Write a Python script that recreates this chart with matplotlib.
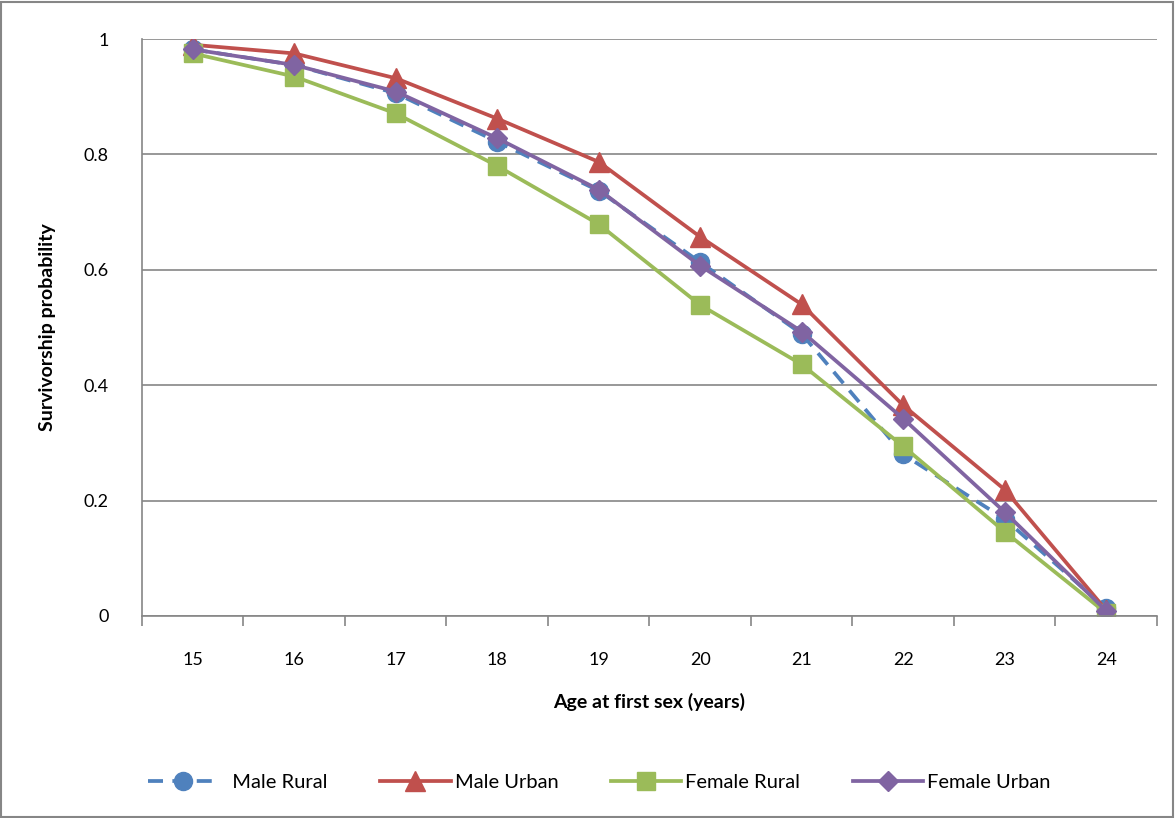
import matplotlib.pyplot as plt
from matplotlib.patches import Rectangle

# survivorship probabilities
ages = [15, 16, 17, 18, 19, 20, 21, 22, 23, 24]
male_rural = [0.982, 0.955, 0.906, 0.822, 0.737, 0.613, 0.489, 0.280, 0.168, 0.013]
male_urban = [0.990, 0.975, 0.932, 0.862, 0.787, 0.657, 0.540, 0.365, 0.219, 0.010]
female_rural = [0.975, 0.935, 0.871, 0.780, 0.679, 0.539, 0.436, 0.294, 0.146, 0.005]
female_urban = [0.982, 0.955, 0.909, 0.828, 0.739, 0.607, 0.493, 0.342, 0.180, 0.009]

plt.rcParams['font.family'] = ['Lato', 'DejaVu Sans']

fig = plt.figure(figsize=(11.75, 8.18), dpi=100)
ax = fig.add_axes([142 / 1175, 1 - 616 / 818, (1157 - 142) / 1175, (616 - 39) / 818])

# outer chart border
fig.patches.append(Rectangle((0.001, 0.001), 0.997, 0.997, transform=fig.transFigure,
                             fill=False, edgecolor='#868686', linewidth=1.5))

ax.plot(ages, male_rural, color='#4F81BD', lw=2.7, ls=(0, (4, 2.5)), marker='o', ms=13,
        label='  Male Rural')
ax.plot(ages, male_urban, color='#C0504D', lw=2.7, marker='^', ms=14, label='Male Urban')
ax.plot(ages, female_rural, color='#9BBB59', lw=2.7, marker='s', ms=13, label='Female Rural')
ax.plot(ages, female_urban, color='#8064A2', lw=2.7, marker='D', ms=10, label='Female Urban')

ax.set_xlim(14.5, 24.5)
ax.set_ylim(0, 1)
ax.set_xticks(ages)
ax.set_xticks([a + 0.5 for a in [14] + ages], minor=True)
ax.tick_params(axis='x', which='major', length=0, pad=26, labelsize=13)
ax.tick_params(axis='x', which='minor', length=7, width=1.2, color='#868686')
ax.set_yticks([0, 0.2, 0.4, 0.6, 0.8, 1])
ax.set_yticklabels(['0', '0.2', '0.4', '0.6', '0.8', '1'])
ax.tick_params(axis='y', length=0, pad=24, labelsize=13)

ax.grid(axis='y', color='#868686', lw=1.2)
ax.set_axisbelow(True)
for s in ['top', 'right']:
    ax.spines[s].set_visible(False)
for s in ['left', 'bottom']:
    ax.spines[s].set_color('#868686')
    ax.spines[s].set_linewidth(1.2)

ax.set_xlabel('Age at first sex (years)', fontsize=14, fontweight='bold', labelpad=18)
ax.set_ylabel('Survivorship probability', fontsize=14, fontweight='bold', labelpad=20)

fig.legend(loc='center', bbox_to_anchor=(0.51, 0.044), ncol=4, frameon=False,
           fontsize=14.5, handlelength=3.5, columnspacing=2.6, handletextpad=0.2)

fig.savefig('out.png', dpi=100)
